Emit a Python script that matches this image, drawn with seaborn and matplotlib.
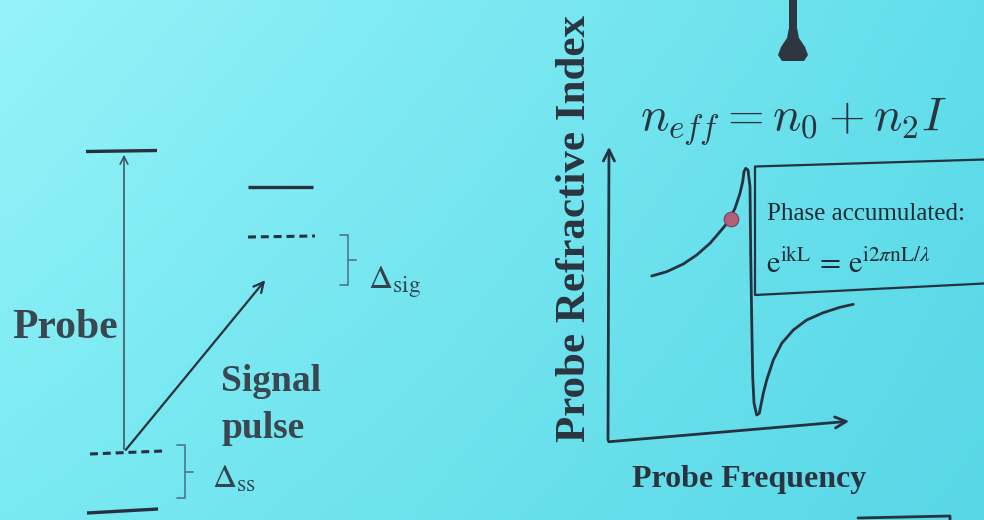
import numpy as np
import pandas as pd
import seaborn as sns
import matplotlib.pyplot as plt
from matplotlib.patches import Polygon

sns.set_theme(style="white")
plt.rcParams["font.family"] = ["Liberation Serif", "DejaVu Serif"]

# ---- dispersion curve of the probe refractive index (drawing units, y down) ----
freq_px = [651.7, 666.7, 683.3, 696.7, 710.0, 720.0, 728.3, 735.0, 740.0, 742.7,
           744.0, 745.7, 748.0, 750.0, 750.7, 751.7, 752.7, 754.0, 756.7, 759.3,
           763.3, 766.7, 773.3, 781.7, 793.3, 806.7, 823.3, 840.0, 853.3]
index_px = [276.0, 271.7, 264.0, 255.0, 243.3, 231.7, 221.7, 208.3, 193.3, 181.7,
            171.7, 168.3, 170.0, 186.7, 253.0, 320.0, 376.7, 403.0, 415.0, 413.3,
            393.3, 380.0, 360.0, 343.3, 330.0, 320.0, 312.7, 307.3, 304.3]
probe_point = (731.0, 219.0)

# ---- energy-level diagram ----
levels_solid = {"upper": (86, 157, 151.5, 150.5), "signal": (248, 313, 187, 187),
                "ground": (87, 158, 513, 509)}
levels_dashed = {"virtual_sig": (248, 315, 237, 236), "virtual_ss": (90, 163, 454, 451)}

ink = "#26323f"
brace_col = "#4f7f98"

fig = plt.figure(figsize=(9.84, 5.20), dpi=100)
ax = fig.add_axes([0, 0, 1, 1])
ax.set_xlim(0, 984)
ax.set_ylim(520, 0)
ax.axis("off")

# projected-slide background: brighter toward the upper left
c_tl = np.array([150, 243, 249]) / 255
c_tr = np.array([ 98, 222, 235]) / 255
c_bl = np.array([122, 234, 242]) / 255
c_br = np.array([ 88, 215, 230]) / 255
u = np.linspace(0, 1, 120)[None, :, None]
v = np.linspace(0, 1, 64)[:, None, None]
bg = (1 - u) * (1 - v) * c_tl + u * (1 - v) * c_tr + (1 - u) * v * c_bl + u * v * c_br
ax.imshow(bg, extent=(0, 984, 520, 0), aspect="auto", interpolation="bilinear", zorder=0)

# levels
for x0, x1, y0, y1 in levels_solid.values():
    ax.plot([x0, x1], [y0, y1], color=ink, lw=2.4, solid_capstyle="butt", zorder=2)
for x0, x1, y0, y1 in levels_dashed.values():
    ax.plot([x0, x1], [y0, y1], color=ink, lw=2.2, ls=(0, (2.6, 1.6)), zorder=2)

# transitions
ax.annotate("", xy=(124, 152), xytext=(124, 452),
            arrowprops=dict(arrowstyle="->", color="#3b4a55", lw=1.1, mutation_scale=14))
ax.annotate("", xy=(267, 278), xytext=(124, 452),
            arrowprops=dict(arrowstyle="->", color=ink, lw=1.6, mutation_scale=18))

# detuning braces
def brace(x, ytop, ybot, ytip):
    ax.plot([x - 8, x, x, x - 8], [ytop, ytop, ybot, ybot], color=brace_col, lw=1.3, zorder=2)
    ax.plot([x, x + 8], [ytip, ytip], color=brace_col, lw=1.3, zorder=2)

brace(348, 235, 285, 260)
brace(185, 445, 498, 472)

ax.text(368, 288, r"$\Delta_{\mathrm{sig}}$", fontsize=24, color="#34424e",
        math_fontfamily="stix", ha="left", va="baseline")
ax.text(212, 487, r"$\Delta_{\mathrm{ss}}$", fontsize=24, color="#34424e",
        math_fontfamily="stix", ha="left", va="baseline")

bold = dict(fontweight="bold", color="#3a4650")
ax.text(12, 338, "Probe", fontsize=30, ha="left", va="baseline", **bold)
ax.text(221, 391, "Signal", fontsize=27, ha="left", va="baseline", **bold)
ax.text(222, 438, "pulse", fontsize=27, ha="left", va="baseline", **bold)

# ---- refractive index panel ----
ax.annotate("", xy=(609, 144), xytext=(608, 443),
            arrowprops=dict(arrowstyle="->", color=ink, lw=2.0, mutation_scale=20))
ax.annotate("", xy=(852, 421), xytext=(606, 442),
            arrowprops=dict(arrowstyle="->", color=ink, lw=2.0, mutation_scale=20))

sns.lineplot(x=freq_px, y=index_px, sort=False, estimator=None, color=ink,
             lw=2.0, ax=ax, zorder=3)
sns.scatterplot(x=[probe_point[0]], y=[probe_point[1]], s=110, color="#b0607a",
                edgecolor="#7a4058", linewidth=0.8, ax=ax, zorder=4)
ax.set_xlim(0, 984)
ax.set_ylim(520, 0)
ax.axis("off")

# annotation box
ax.plot([984, 755, 755, 984], [159.5, 166.5, 295, 283.5], color=ink, lw=1.6, zorder=3)
ax.text(767, 220, "Phase accumulated:", fontsize=18, color="#1f2a35", ha="left", va="baseline")
ax.text(766, 273, r"$\mathrm{e}^{\mathrm{ikL}}\, =\, \mathrm{e}^{\mathrm{i}2\pi\mathrm{nL}/\lambda}$",
        fontsize=22, color="#1f2a35", math_fontfamily="stix", ha="left", va="baseline")

ax.text(640, 131, r"$n_{eff} = n_0 + n_2 I$", fontsize=34, color="#2a3440",
        math_fontfamily="cm", ha="left", va="baseline")

ax.text(575, 229, "Probe Refractive Index", fontsize=31, rotation=90,
        ha="center", va="center", fontweight="bold", color="#2a3440")
ax.text(749, 487, "Probe Frequency", fontsize=23, ha="center", va="baseline",
        fontweight="bold", color="#2a3440")

# pointer tip hanging in front of the screen
ax.add_patch(Polygon([(789, 0), (797, 0), (797, 28), (799, 38), (805, 47), (808, 55),
                      (804, 61), (782, 61), (778, 55), (781, 47), (787, 38), (789, 28)],
                     closed=True, facecolor="#2e3640", edgecolor="none", zorder=5))

# edge of the next panel at the bottom right
ax.plot([858, 950, 950], [518, 516, 520], color=ink, lw=2.0, zorder=3)

fig.savefig("out.png", dpi=100)
